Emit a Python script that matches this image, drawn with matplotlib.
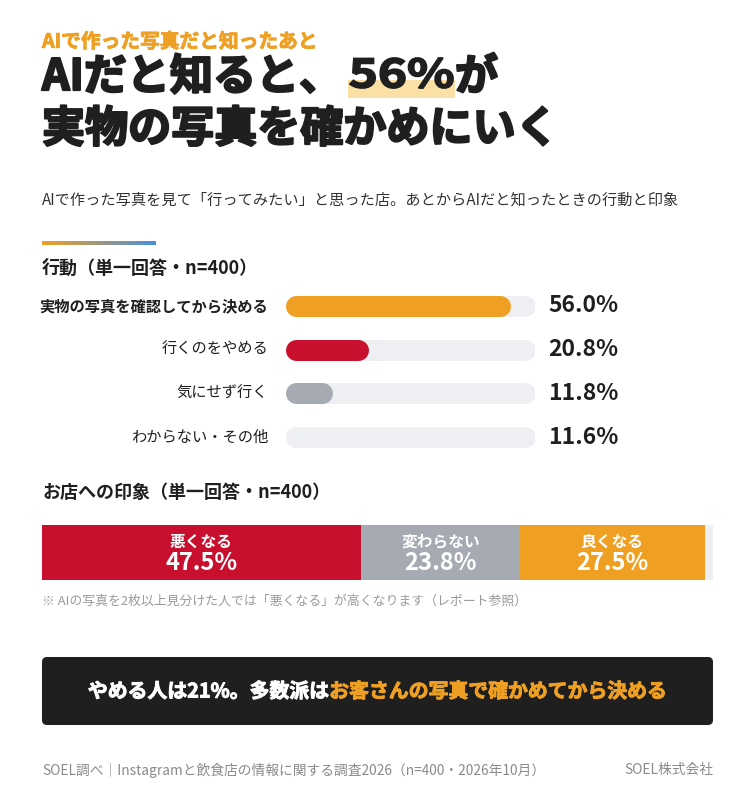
import numpy as np
import matplotlib
matplotlib.use('Agg')
import matplotlib.pyplot as plt
from matplotlib.patches import FancyBboxPatch, Rectangle, PathPatch
from matplotlib.colors import LinearSegmentedColormap
from matplotlib.textpath import TextPath
from matplotlib.font_manager import FontProperties
import matplotlib.transforms as mtransforms
import matplotlib.patheffects as pe

plt.rcParams['font.family'] = ['Noto Sans CJK JP', 'DejaVu Sans']

# ---- data ----
action_labels = ['実物の写真を確認してから決める', '行くのをやめる', '気にせず行く', 'わからない・その他']
action_values = [56.0, 20.8, 11.8, 11.6]
action_colors = ['#EFA023', '#C8102E', '#A6AAB2', '#EEEFF3']

impression_labels = ['悪くなる', '変わらない', '良くなる']
impression_values = [47.5, 23.8, 27.5]
impression_colors = ['#C8102E', '#A6AAB2', '#EFA023']

headline_pct = '56%'

ORANGE = '#EFA023'
DARK = '#1F1F1F'
TRACK = '#EEEFF3'

W, H = 755, 800
fig = plt.figure(figsize=(W / 100, H / 100), dpi=100)
fig.patch.set_facecolor('white')

# background axes in pixel coordinates (y down)
bg = fig.add_axes([0, 0, 1, 1])
bg.set_xlim(0, W)
bg.set_ylim(H, 0)
bg.axis('off')
renderer = fig.canvas.get_renderer()

heavy = [pe.withStroke(linewidth=1.6, foreground=DARK)]


def px_axes(x0, y0, x1, y1):
    return fig.add_axes([x0 / W, 1 - y1 / H, (x1 - x0) / W, (y1 - y0) / H])


def x_extent(t):
    bb = t.get_window_extent(renderer).transformed(bg.transData.inverted())
    return bb.x0, bb.x1


# ---- header ----
bg.text(42, 42, 'AIで作った写真だと知ったあと', color=ORANGE, fontsize=14.2,
        fontweight='bold', va='center', ha='left',
        path_effects=[pe.withStroke(linewidth=0.6, foreground=ORANGE)])

title_kw = dict(color=DARK, fontsize=31, fontweight='bold', va='center', ha='left',
                path_effects=heavy)
bg.text(42, 77, 'AIだと知ると、', **title_kw)

# wide heavy digits for the highlighted number (stretched text path)
fp = FontProperties(family='Noto Sans CJK JP', weight='bold')
tp = TextPath((0, 0), headline_pct, size=1, prop=fp)
ext = tp.get_extents()
num_x0, num_x1, num_bottom, num_h = 350, 453, 88, 30
sxf = (num_x1 - num_x0) / ext.width
syf = num_h / ext.height
tr = mtransforms.Affine2D().scale(sxf, -syf).translate(num_x0 - ext.x0 * sxf,
                                                       num_bottom + ext.y0 * syf)
bg.add_patch(Rectangle((num_x0 - 2, 80), num_x1 - num_x0 + 4, 18, color='#FBE0A6',
                       zorder=2, lw=0))
bg.add_patch(PathPatch(tr.transform_path(tp), facecolor=DARK, edgecolor=DARK, lw=1.3,
                       zorder=3))
bg.text(num_x1 + 2, 77, 'が', **title_kw)
bg.text(42, 129, '実物の写真を確かめにいく', **title_kw)

bg.text(42, 200, 'AIで作った写真を見て「行ってみたい」と思った店。あとからAIだと知ったときの行動と印象',
        color='#333333', fontsize=10.95, va='center', ha='left')

# gradient accent line
grad = LinearSegmentedColormap.from_list('acc', [ORANGE, '#4A90D9'])
bg.imshow(np.linspace(0, 1, 200).reshape(1, -1), cmap=grad, aspect='auto',
          extent=[42, 156, 245, 241], zorder=2)
bg.set_xlim(0, W)
bg.set_ylim(H, 0)

bg.text(42, 268, '行動（単一回答・n=400）', color=DARK, fontsize=13, fontweight='bold',
        va='center', ha='left')

# ---- action bars ----
ax = px_axes(285, 284, 535, 459)
ax.axis('off')
scale = max(action_values) / 0.9
ax.set_xlim(0, scale)
ax.set_ylim(len(action_values) - 0.5, -0.5)
bar_px = 21
r = bar_px / 2 / 250 * scale
lw = bar_px * 72 / 100
trans = mtransforms.blended_transform_factory(ax.transAxes, ax.transData)
for i, (lab, v, c) in enumerate(zip(action_labels, action_values, action_colors)):
    ax.plot([r, scale - r], [i, i], color=TRACK, lw=lw, solid_capstyle='round', zorder=1)
    ax.plot([r, max(v - r, r)], [i, i], color=c, lw=lw, solid_capstyle='round', zorder=2)
    ax.text(-0.068, i, lab, transform=trans, ha='right', va='center', fontsize=11,
            color=DARK, fontweight='bold' if i == 0 else 'normal')
    ax.text(1.052, i, f'{v:.1f}%', transform=trans, ha='left', va='center', fontsize=16.5,
            color=DARK, fontweight='bold')

bg.text(42, 492, 'お店への印象（単一回答・n=400）', color=DARK, fontsize=13, fontweight='bold',
        va='center', ha='left')

# ---- impression stacked bar ----
sx = px_axes(42, 525, 713, 580)
sx.set_facecolor(TRACK)
for s in sx.spines.values():
    s.set_visible(False)
sx.set_xticks([])
sx.set_yticks([])
sx.set_xlim(0, 100)
sx.set_ylim(-0.5, 0.5)
left = 0
for lab, v, c in zip(impression_labels, impression_values, impression_colors):
    sx.barh(0, v, left=left, height=1, color=c, lw=0)
    sx.text(left + v / 2, 0.2, lab, color='white', fontsize=11.3, fontweight='bold',
            ha='center', va='center')
    sx.text(left + v / 2, -0.2, f'{v:.1f}%', color='white', fontsize=17, fontweight='bold',
            ha='center', va='center')
    left += v

bg.text(42, 601, '※ AIの写真を2枚以上見分けた人では「悪くなる」が高くなります（レポート参照）',
        color='#9A9A9A', fontsize=9.3, va='center', ha='left')

# ---- conclusion box ----
bg.add_patch(FancyBboxPatch((42, 657), 671, 68, boxstyle='round,pad=0,rounding_size=5',
                            facecolor=DARK, edgecolor='none'))
part_a = 'やめる人は21%。多数派は'
part_b = 'お客さんの写真で確かめてから決める'
ta = bg.text(0, 691, part_a, color='white', fontsize=14.3, fontweight='bold', va='center',
             ha='left', path_effects=[pe.withStroke(linewidth=0.7, foreground='white')])
tb = bg.text(0, 691, part_b, color=ORANGE, fontsize=14.3, fontweight='bold', va='center',
             ha='left', path_effects=[pe.withStroke(linewidth=0.7, foreground=ORANGE)])
a0, a1 = x_extent(ta)
b0, b1 = x_extent(tb)
total = (a1 - a0) + (b1 - b0)
start = 42 + (671 - total) / 2
ta.set_x(start)
tb.set_x(start + (a1 - a0))

# ---- footer ----
bg.text(42, 770, 'SOEL調べ｜Instagramと飲食店の情報に関する調査2026（n=400・2026年10月）',
        color='#8A8A8A', fontsize=9.9, va='center', ha='left')
bg.text(713, 770, 'SOEL株式会社', color='#8A8A8A', fontsize=9.9, va='center', ha='right')

fig.savefig('out.png', dpi=100, facecolor='white')
